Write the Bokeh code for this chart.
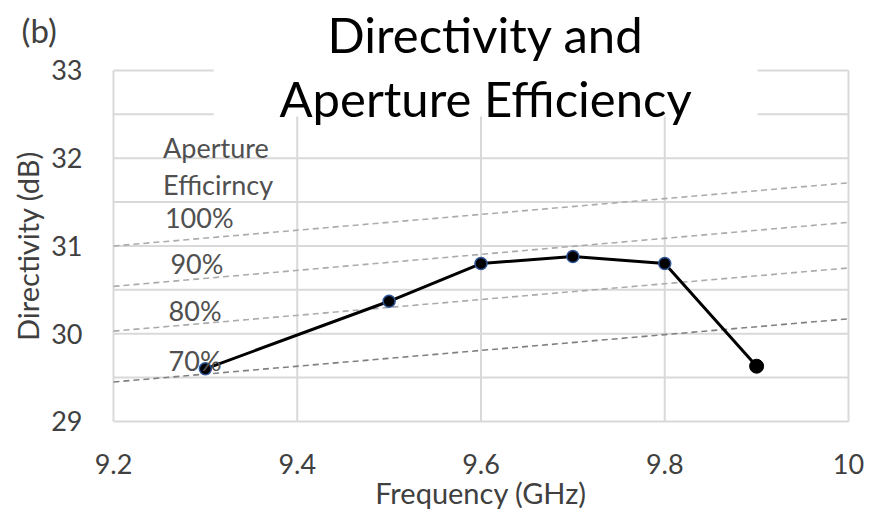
from bokeh.plotting import figure
from bokeh.models import Range1d, FixedTicker, Label, BoxAnnotation
from bokeh.embed import file_html
from bokeh.resources import INLINE

# ---- data ----
freq = [9.3, 9.5, 9.6, 9.7, 9.8]
directivity = [29.6, 30.37, 30.8, 30.88, 30.8]
freq_last = [9.9]
directivity_last = [29.63]

eff_labels = ["100%", "90%", "80%", "70%"]
eff_freq = [9.2, 10.0]
eff_start = [31.0, 30.54, 30.03, 29.45]
eff_end = [31.72, 31.27, 30.75, 30.17]

x_ticks = [9.2, 9.4, 9.6, 9.8, 10.0]
x_tick_labels = ["9.2", "9.4", "9.6", "9.8", "10"]
y_ticks = [29, 30, 31, 32, 33]
y_grid = [29, 29.5, 30, 30.5, 31, 31.5, 32, 32.5, 33]

X0, X1 = x_ticks[0], x_ticks[-1]
Y0, Y1 = y_ticks[0], y_ticks[-1]

FONT = "Lato"
GRID = "#d9d9d9"
TXT = "#404040"

# frame covers the whole canvas; axes are pinned at the plot-box edges
p = figure(width=889, height=512, output_backend="svg", toolbar_location=None,
           x_range=Range1d(9.07701, 10.04463), y_range=Range1d(27.96296, 33.79772),
           min_border=0, min_border_left=0, min_border_right=0,
           min_border_top=0, min_border_bottom=0)
p.background_fill_color = "white"
p.border_fill_color = "white"
p.outline_line_color = None
p.grid.visible = False

p.xaxis.ticker = FixedTicker(ticks=x_ticks)
p.xaxis.major_label_overrides = {t: l for t, l in zip(x_ticks, x_tick_labels)}
p.yaxis.ticker = FixedTicker(ticks=y_ticks)
p.xaxis.fixed_location = Y0
p.yaxis.fixed_location = X0
p.xaxis.bounds = (X0, X1)
p.yaxis.bounds = (Y0, Y1)

for ax in (p.xaxis, p.yaxis):
    ax.axis_line_color = None
    ax.major_tick_line_color = None
    ax.minor_tick_line_color = None
    ax.major_label_text_font = FONT
    ax.major_label_text_font_size = "27px"
    ax.major_label_text_color = TXT
    ax.axis_label_text_font = FONT
    ax.axis_label_text_font_size = "29px"
    ax.axis_label_text_font_style = "normal"
    ax.axis_label_text_color = TXT

p.xaxis.axis_label = "Frequency (GHz)"
p.yaxis.axis_label = "Directivity (dB)"
p.xaxis.major_label_standoff = 27
p.xaxis.axis_label_standoff = -3
p.yaxis.major_label_standoff = 25
p.yaxis.axis_label_standoff = 3

# grid lines (plot box)
p.segment(x0=[X0] * len(y_grid), x1=[X1] * len(y_grid), y0=y_grid, y1=y_grid,
          line_color=GRID, line_width=2)
p.segment(x0=x_ticks, x1=x_ticks, y0=[Y0] * len(x_ticks), y1=[Y1] * len(x_ticks),
          line_color=GRID, line_width=2)

# efficiency lines
for lab, s, e in zip(eff_labels, eff_start, eff_end):
    col = "#808080" if lab == "70%" else "#ababab"
    p.line(eff_freq, [s, e], line_color=col, line_width=1.6, line_dash="6 4")

# data
p.line(freq + freq_last, directivity + directivity_last, line_color="black", line_width=3)
p.scatter(freq, directivity, size=12, fill_color="black", line_color="#2f5597", line_width=1.5)
p.scatter(freq_last, directivity_last, size=14, fill_color="black", line_color="black")

# legend-like texts
legend_texts = ["Aperture", "Efficirncy"] + eff_labels
legend_x = [9.254, 9.254, 9.256, 9.262, 9.260, 9.260]
legend_y = [32.12, 31.70, 31.325, 30.80, 30.265, 29.695]
for t, lx, ly in zip(legend_texts, legend_x, legend_y):
    p.add_layout(Label(x=lx, y=ly, text=t, text_font=FONT, text_font_size="27px",
                       text_color="#505050", text_baseline="middle", text_align="left"))

# title with white background
p.add_layout(BoxAnnotation(left=9.309, right=9.901, bottom=32.476, top=None,
                           fill_color="white", fill_alpha=1.0, line_color=None))
p.add_layout(Label(x=9.605, y=33.42, text="Directivity and", text_font=FONT,
                   text_font_size="49px", text_color="black",
                   text_align="center", text_baseline="middle"))
p.add_layout(Label(x=9.605, y=32.69, text="Aperture Efficiency", text_font=FONT,
                   text_font_size="49px", text_color="black",
                   text_align="center", text_baseline="middle"))
p.add_layout(Label(x=9.1, y=33.456, text="(b)", text_font=FONT,
                   text_font_size="33px", text_color=TXT,
                   text_align="left", text_baseline="middle"))

open("out.html", "w").write(file_html(p, INLINE))
